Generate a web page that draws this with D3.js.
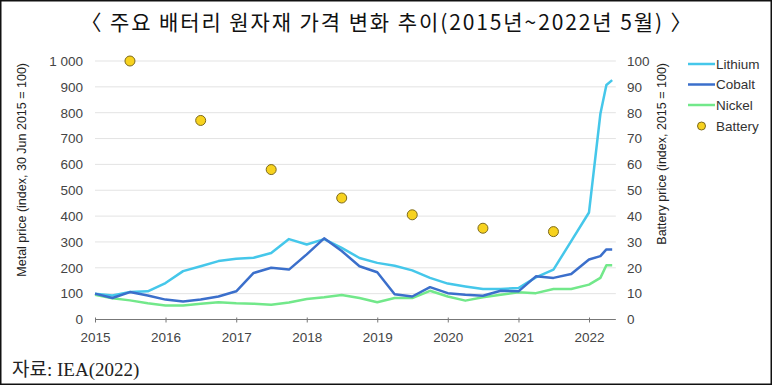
<!DOCTYPE html>
<html>
<head>
<meta charset="utf-8">
<script src="https://cdn.jsdelivr.net/npm/d3@7"></script>
<style>
  body { margin: 0; background: #fff; }
  svg text { font-family: "Liberation Sans", Arial, sans-serif; }
</style>
</head>
<body>
<div id="chart"></div>
<script>
// quarterly dates, monthly at the end (2022)
const dates = ["2015-01", "2015-04", "2015-07", "2015-10",
    "2016-01", "2016-04", "2016-07", "2016-10",
    "2017-01", "2017-04", "2017-07", "2017-10",
    "2018-01", "2018-04", "2018-07", "2018-10",
    "2019-01", "2019-04", "2019-07", "2019-10",
    "2020-01", "2020-04", "2020-07", "2020-10",
    "2021-01", "2021-04", "2021-07", "2021-10",
    "2022-01", "2022-03", "2022-04", "2022-05"];

const lithium = [100, 93, 106, 109, 141, 187, 206, 226, 235, 239, 257, 311,
    290, 311, 277, 238, 219, 208, 190, 161, 139, 128, 118, 118,
    122, 163, 193, 303, 414, 796, 907, 926];
const cobalt = [100, 83, 106, 93, 77, 70, 77, 89, 109, 180, 200, 193,
    252, 314, 265, 206, 183, 98, 89, 125, 102, 96, 92, 111,
    109, 167, 161, 176, 232, 245, 271, 271];
const nickel = [96, 82, 74, 63, 54, 54, 61, 67, 63, 61, 57, 66,
    79, 86, 95, 83, 67, 83, 83, 111, 89, 73, 86, 96,
    105, 102, 118, 118, 135, 161, 210, 210];

// battery price, right axis
const batteryDates = ["2015-07", "2016-07", "2017-07", "2018-07", "2019-07", "2020-07", "2021-07"];
const battery = [100, 77, 58, 47, 40.5, 35.3, 34];

const yearTicks = [2015, 2016, 2017, 2018, 2019, 2020, 2021, 2022];
const leftTicks = [0, 100, 200, 300, 400, 500, 600, 700, 800, 900, 1000];
const rightTicks = [0, 10, 20, 30, 40, 50, 60, 70, 80, 90, 100];

const seriesNames = ["Lithium", "Cobalt", "Nickel"];
const seriesColors = ["#45c7ea", "#3b6fcb", "#72e88a"];

const W = 773, H = 386;
const parse = d3.timeParse("%Y-%m");

const svg = d3.select("#chart").append("svg")
    .attr("width", W).attr("height", H);

// frame
svg.append("rect")
    .attr("x", 0.75).attr("y", 0.75)
    .attr("width", 770.5).attr("height", 383.5)
    .attr("fill", "#fff").attr("stroke", "#111").attr("stroke-width", 1.5);

// title
svg.append("text")
    .attr("x", 387).attr("y", 30)
    .attr("text-anchor", "middle")
    .style("font-family", "'Noto Sans CJK KR', sans-serif")
    .style("font-size", "21px")
    .style("letter-spacing", "1.9px")
    .style("fill", "#111")
    .text("〈 주요 배터리 원자재 가격 변화 추이(2015년~2022년 5월) 〉");

// scales
var x = d3.scaleTime()
    .domain([new Date(2015, 0, 1), new Date(2022, 0, 1)])
    .range([95, 589]);
var yL = d3.scaleLinear().domain([0, 1000]).range([319.5, 61]);
var yR = d3.scaleLinear().domain([0, 100]).range([319.5, 61]);
const xEnd = x(new Date(2022, 4, 20));

// grid
svg.append("g")
    .selectAll("line")
    .data(leftTicks.slice(1))
    .enter().append("line")
    .attr("x1", 95).attr("x2", xEnd)
    .attr("y1", d => yL(d)).attr("y2", d => yL(d))
    .attr("stroke", "#e3e3e3").attr("stroke-width", 1);

// x axis
const xAxis = svg.append("g")
    .attr("transform", "translate(0," + yL(0) + ")")
    .call(d3.axisBottom(x)
        .tickValues(yearTicks.map(y => new Date(y, 0, 1)))
        .tickFormat(d3.timeFormat("%Y"))
        .tickSize(4)
        .tickSizeOuter(0));
xAxis.select(".domain").remove();
xAxis.append("line")
    .attr("x1", 95).attr("x2", xEnd)
    .attr("stroke", "#777").attr("stroke-width", 1);
xAxis.selectAll(".tick line").attr("stroke", "#777").attr("y1", -2).attr("y2", 3);
xAxis.selectAll(".tick text")
    .attr("y", 13)
    .style("font-size", "13.5px").style("fill", "#444")
    .style("font-family", "'Liberation Sans', Arial, sans-serif");

// left axis
const fmtLeft = d => d3.format(",")(d).replace(",", " ");
const yAxisL = svg.append("g")
    .attr("transform", "translate(83,0)")
    .call(d3.axisLeft(yL).tickValues(leftTicks).tickSize(0).tickFormat(fmtLeft));
yAxisL.select(".domain").remove();
yAxisL.selectAll("text")
    .attr("x", 0)
    .style("font-size", "13.5px").style("fill", "#444")
    .style("font-family", "'Liberation Sans', Arial, sans-serif");

// right axis
const yAxisR = svg.append("g")
    .attr("transform", "translate(627,0)")
    .call(d3.axisRight(yR).tickValues(rightTicks).tickSize(0));
yAxisR.select(".domain").remove();
yAxisR.selectAll("text")
    .attr("x", 0)
    .style("font-size", "13.5px").style("fill", "#444")
    .style("font-family", "'Liberation Sans', Arial, sans-serif");

// axis titles
svg.append("text")
    .attr("transform", "translate(26,63) rotate(-90)")
    .attr("text-anchor", "end")
    .style("font-size", "12.5px").style("fill", "#222")
    .text("Metal price (index, 30 Jun 2015 = 100)");
svg.append("text")
    .attr("transform", "translate(666,63) rotate(-90)")
    .attr("text-anchor", "end")
    .style("font-size", "12.5px").style("fill", "#222")
    .text("Battery price (index, 2015 = 100)");

// lines
const metals = [lithium, cobalt, nickel];
var line = d3.line()
    .x(function (d, i) { return x(parse(dates[i])); })
    .y(function (d) { return yL(d); });

// nickel at the back, cobalt on top
[2, 0, 1].forEach(function (k) {
    svg.append("path")
        .datum(metals[k])
        .attr("fill", "none")
        .attr("stroke", seriesColors[k])
        .attr("stroke-width", 2.5)
        .attr("stroke-linejoin", "round")
        .attr("d", line);
});

// battery dots
svg.append("g")
    .selectAll("circle")
    .data(battery)
    .enter().append("circle")
    .attr("cx", (d, i) => x(parse(batteryDates[i])))
    .attr("cy", d => yR(d))
    .attr("r", 5)
    .attr("fill", "#f7d21e")
    .attr("stroke", "#7d6a1c")
    .attr("stroke-width", 1);

// legend
const legendY = [64, 84.5, 105, 126];
const lg = svg.append("g");
seriesNames.forEach(function (name, i) {
    lg.append("line")
        .attr("x1", 688).attr("x2", 715)
        .attr("y1", legendY[i]).attr("y2", legendY[i])
        .attr("stroke", seriesColors[i]).attr("stroke-width", 2.5);
    lg.append("text")
        .attr("x", 716).attr("y", legendY[i] + 4.5)
        .style("font-size", "13.5px").style("fill", "#333")
        .text(name);
});
lg.append("circle")
    .attr("cx", 701.5).attr("cy", legendY[3]).attr("r", 4)
    .attr("fill", "#f7d21e").attr("stroke", "#7d6a1c").attr("stroke-width", 1);
lg.append("text")
    .attr("x", 716).attr("y", legendY[3] + 4.5)
    .style("font-size", "13.5px").style("fill", "#333")
    .text("Battery");

// source
svg.append("text")
    .attr("x", 12).attr("y", 376)
    .style("font-family", "'Liberation Serif', 'Noto Sans CJK KR', serif")
    .style("font-size", "19px").style("fill", "#222")
    .text("자료: IEA(2022)");
</script>
</body>
</html>
